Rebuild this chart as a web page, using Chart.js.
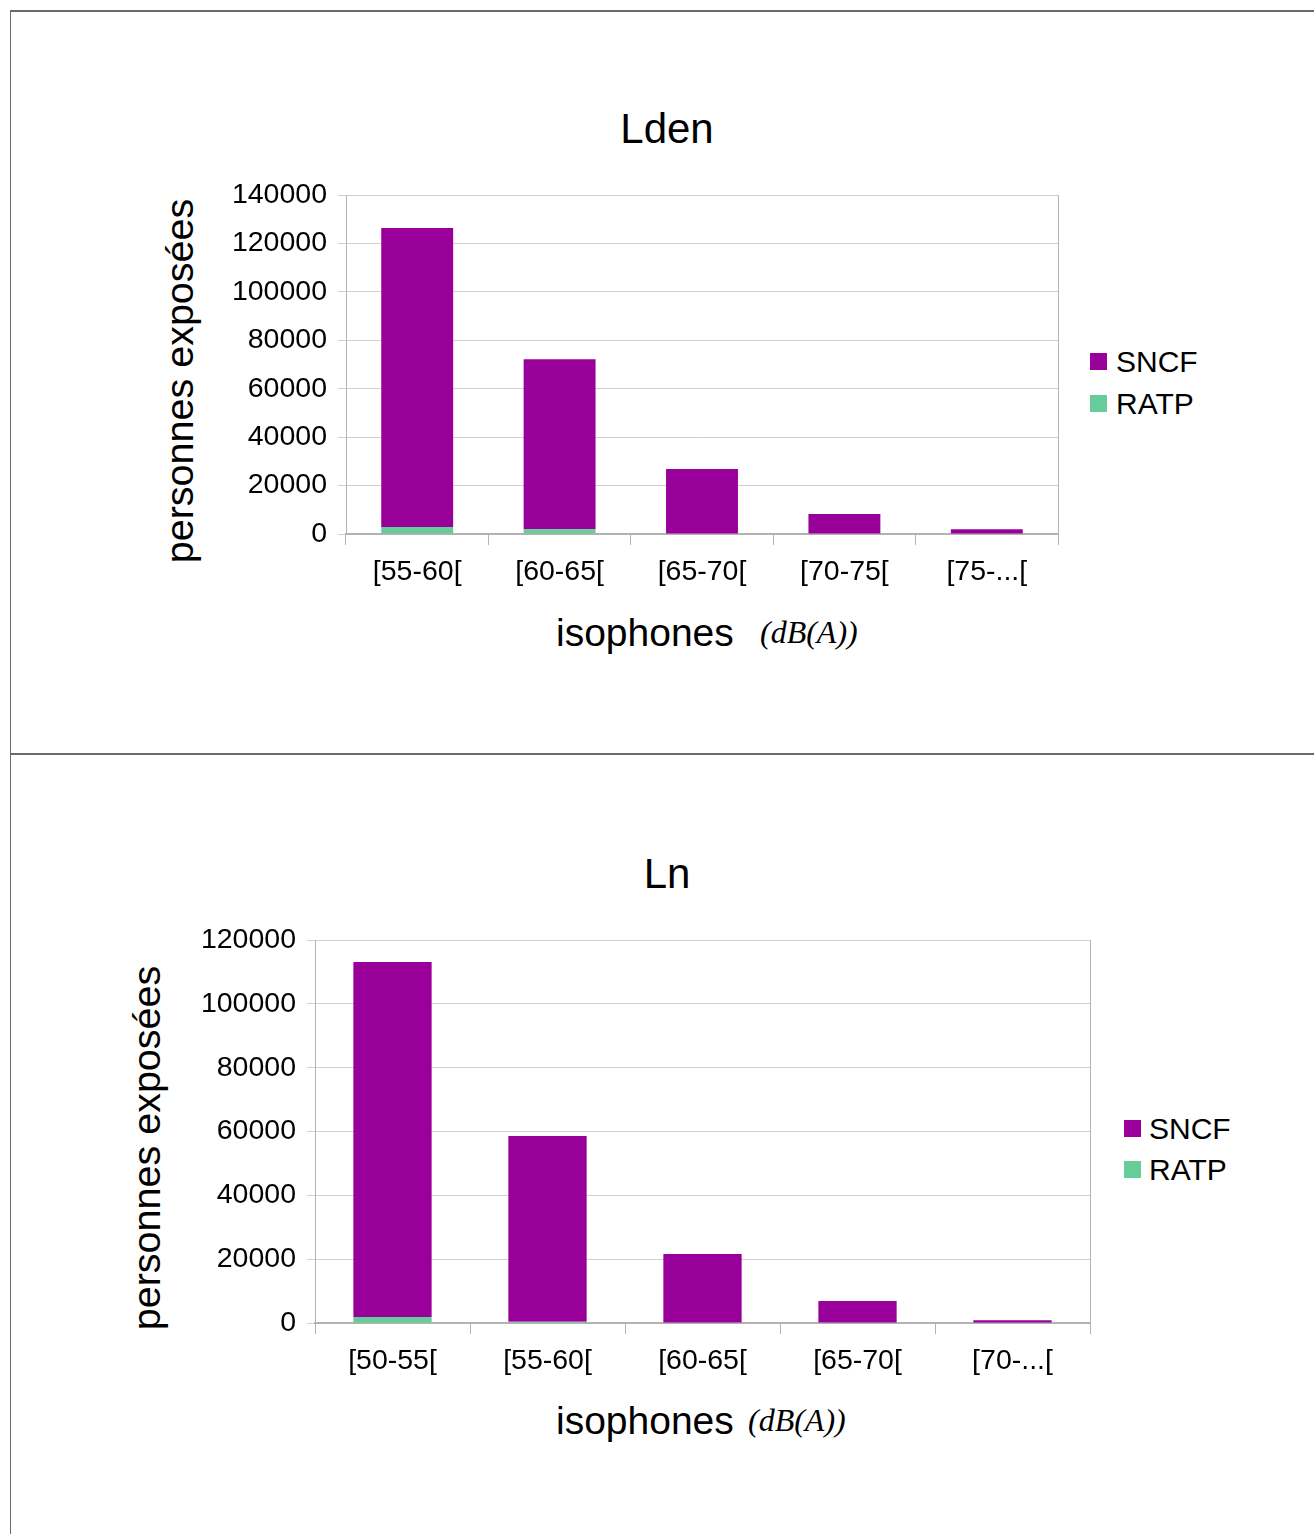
<!DOCTYPE html>
<html>
<head>
<meta charset="utf-8">
<script src="https://cdn.jsdelivr.net/npm/chart.js@4"></script>
<style>
  html, body { margin: 0; padding: 0; background: #fff; }
  body { width: 1314px; height: 1534px; position: relative; overflow: hidden; font-family: "Liberation Sans", Arial, sans-serif; }
  .line { position: absolute; background: #6a6a6a; }
  canvas { position: absolute; }
  .t { position: absolute; white-space: nowrap; color: #000; line-height: 1; }
  .c { transform: translate(-50%, -50%); }
  .rot { transform: translate(-50%, -50%) rotate(-90deg); }
  .serif { font-family: "Liberation Serif", "Times New Roman", serif; font-style: italic; }
  .sw { position: absolute; width: 17px; height: 17px; }
</style>
</head>
<body>
<div class="line" style="left:10px; top:10px; width:1304px; height:2px;"></div>
<div class="line" style="left:10px; top:10px; width:1px; height:1524px;"></div>
<div class="line" style="left:10px; top:753px; width:1304px; height:2px;"></div>

<!-- Panel 1 texts -->
<div class="t c" style="left:667px; top:129px; font-size:42px;">Lden</div>
<div class="t rot" style="left:180px; top:381px; font-size:39.5px;">personnes exposées</div>
<div class="t" style="left:556px; top:632px; font-size:39px; transform:translateY(-50%);">isophones</div>
<div class="t serif" style="left:760px; top:632px; font-size:32px; transform:translateY(-50%);">(dB(A))</div>
<div class="sw" style="left:1090px; top:353px; background:#990099;"></div>
<div class="t" style="left:1116px; top:362px; font-size:30px; transform:translateY(-50%);">SNCF</div>
<div class="sw" style="left:1090px; top:395px; background:#66CC99;"></div>
<div class="t" style="left:1116px; top:404px; font-size:30px; transform:translateY(-50%);">RATP</div>

<!-- Panel 2 texts -->
<div class="t c" style="left:667px; top:874px; font-size:42px;">Ln</div>
<div class="t rot" style="left:147px; top:1148px; font-size:39.5px;">personnes exposées</div>
<div class="t" style="left:556px; top:1420px; font-size:39px; transform:translateY(-50%);">isophones</div>
<div class="t serif" style="left:748px; top:1420px; font-size:32px; transform:translateY(-50%);">(dB(A))</div>
<div class="sw" style="left:1124px; top:1120px; background:#990099;"></div>
<div class="t" style="left:1149px; top:1129px; font-size:30px; transform:translateY(-50%);">SNCF</div>
<div class="sw" style="left:1124px; top:1161px; background:#66CC99;"></div>
<div class="t" style="left:1149px; top:1170px; font-size:30px; transform:translateY(-50%);">RATP</div>

<canvas id="c1" width="880" height="423" style="left:200px; top:167px; width:880px; height:423px;"></canvas>
<canvas id="c2" width="940" height="468" style="left:170px; top:912px; width:940px; height:468px;"></canvas>

<script>
// ---- Data ----
const ldenCategories = ['[55-60[', '[60-65[', '[65-70[', '[70-75[', '[75-...['];
const ldenSNCF = [123500, 70200, 26800, 8300, 2000];
const ldenRATP = [2900, 2000, 0, 0, 0];
const ldenMax = 140000;

const lnCategories = ['[50-55[', '[55-60[', '[60-65[', '[65-70[', '[70-...['];
const lnSNCF = [111200, 58200, 21600, 6900, 900];
const lnRATP = [1900, 400, 0, 0, 0];
const lnMax = 120000;

const yStep = 20000;
const colorSNCF = '#990099';
const colorRATP = '#66CC99';

const borderPlugin = {
  id: 'areaBorder',
  afterDatasetsDraw(chart) {
    const a = chart.chartArea, ctx = chart.ctx;
    ctx.save();
    ctx.strokeStyle = '#b3b3b3';
    ctx.lineWidth = 1;
    ctx.beginPath();
    ctx.moveTo(Math.round(a.right) + 0.5, a.top);
    ctx.lineTo(Math.round(a.right) + 0.5, a.bottom);
    ctx.stroke();
    ctx.restore();
  }
};

function makeChart(id, cats, sncf, ratp, ymax, yWidth, xHeight, pad) {
  return new Chart(document.getElementById(id), {
    type: 'bar',
    data: {
      labels: cats,
      datasets: [
        { label: 'RATP', data: ratp, backgroundColor: colorRATP, borderWidth: 0 },
        { label: 'SNCF', data: sncf, backgroundColor: colorSNCF, borderWidth: 0 }
      ]
    },
    plugins: [borderPlugin],
    options: {
      responsive: false,
      animation: false,
      devicePixelRatio: 1,
      barPercentage: 1,
      categoryPercentage: 0.505,
      layout: { padding: pad },
      plugins: { legend: { display: false }, title: { display: false }, tooltip: { enabled: false } },
      scales: {
        x: {
          stacked: true,
          grid: { display: true, drawOnChartArea: false, tickLength: 11, color: '#b3b3b3', offset: true },
          border: { display: true, color: '#b3b3b3', width: 2 },
          ticks: { color: '#000', font: { family: 'Liberation Sans', size: 28.5 }, padding: 10, maxRotation: 0 },
          afterFit(scale) { scale.height = xHeight; }
        },
        y: {
          stacked: true,
          min: 0,
          max: ymax,
          grid: { color: '#cfcfcf', tickLength: 8 },
          border: { display: true, color: '#b3b3b3', width: 1 },
          ticks: { stepSize: yStep, color: '#000', font: { family: 'Liberation Sans', size: 28.5 }, padding: 11,
                   callback: (v) => String(v) },
          afterFit(scale) { scale.width = yWidth; }
        }
      }
    }
  });
}

makeChart('c1', ldenCategories, ldenSNCF, ldenRATP, ldenMax, 146, 56, { top: 21, right: 22, bottom: 0, left: 0 });
makeChart('c2', lnCategories, lnSNCF, lnRATP, lnMax, 145, 57, { top: 21, right: 20, bottom: 0, left: 0 });
</script>
</body>
</html>
